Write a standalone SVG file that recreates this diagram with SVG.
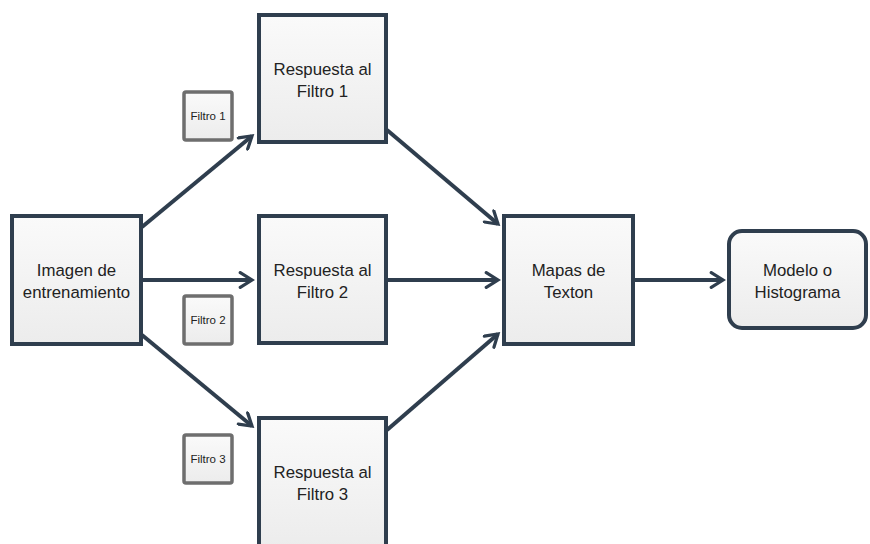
<svg xmlns="http://www.w3.org/2000/svg" width="870" height="544" viewBox="0 0 870 544">
<defs>
<linearGradient id="g" x1="0" y1="0" x2="0" y2="1"><stop offset="0" stop-color="#fafafa"/><stop offset="1" stop-color="#ececec"/></linearGradient>
<marker id="ah" viewBox="0 0 12 12" refX="10" refY="6" markerWidth="4.4" markerHeight="4.4" orient="auto" markerUnits="strokeWidth"><path d="M2,1 L10,6 L2,11" fill="none" stroke="#2f3e4e" stroke-width="2.2" stroke-linecap="round" stroke-linejoin="miter"/></marker>
<style>
.b{fill:url(#g);stroke:#2f3e4e;stroke-width:4}
.f{fill:url(#g);stroke:#6e6e6e;stroke-width:3.5}
.t{font-family:"Liberation Sans",Arial,sans-serif;font-size:16.8px;fill:#222;text-anchor:middle}
.s{font-family:"Liberation Sans",Arial,sans-serif;font-size:11.5px;fill:#222;text-anchor:middle}
.c{fill:none;stroke:#2f3e4e;stroke-width:4;marker-end:url(#ah)}
</style>
</defs>
<g id="connectors">
<line class="c" x1="142" y1="227" x2="252" y2="136"/>
<line class="c" x1="142" y1="280" x2="252" y2="280"/>
<line class="c" x1="142" y1="335" x2="252" y2="426"/>
<line class="c" x1="387" y1="130" x2="498" y2="224"/>
<line class="c" x1="387" y1="280" x2="498" y2="280"/>
<line class="c" x1="387" y1="430" x2="498" y2="334"/>
<line class="c" x1="634" y1="280" x2="723" y2="280"/>
</g>
<g id="imagen"><rect class="b" x="12" y="216" width="129" height="128"/><text class="t" x="76.5" y="276">Imagen de</text><text class="t" x="76.5" y="298">entrenamiento</text></g>
<g id="resp1"><rect class="b" x="259" y="15" width="127" height="127"/><text class="t" x="322.5" y="75">Respuesta al</text><text class="t" x="322.5" y="97">Filtro 1</text></g>
<g id="resp2"><rect class="b" x="259" y="216" width="127" height="127"/><text class="t" x="322.5" y="276">Respuesta al</text><text class="t" x="322.5" y="298">Filtro 2</text></g>
<g id="resp3"><rect class="b" x="259" y="418" width="127" height="130"/><text class="t" x="322.5" y="478">Respuesta al</text><text class="t" x="322.5" y="500">Filtro 3</text></g>
<g id="mapas"><rect class="b" x="504" y="216" width="129" height="128"/><text class="t" x="568.5" y="276">Mapas de</text><text class="t" x="568.5" y="298">Texton</text></g>
<g id="modelo"><rect class="b" x="729" y="231" width="137" height="97" rx="13"/><text class="t" x="797.5" y="276">Modelo o</text><text class="t" x="797.5" y="298">Histograma</text></g>
<g id="filtro1"><rect class="f" x="184" y="92" width="48" height="48" rx="2"/><text class="s" x="208" y="120">Filtro 1</text></g>
<g id="filtro2"><rect class="f" x="184" y="296" width="48" height="48" rx="2"/><text class="s" x="208" y="324">Filtro 2</text></g>
<g id="filtro3"><rect class="f" x="184" y="435" width="48" height="48" rx="2"/><text class="s" x="208" y="463">Filtro 3</text></g>
</svg>
